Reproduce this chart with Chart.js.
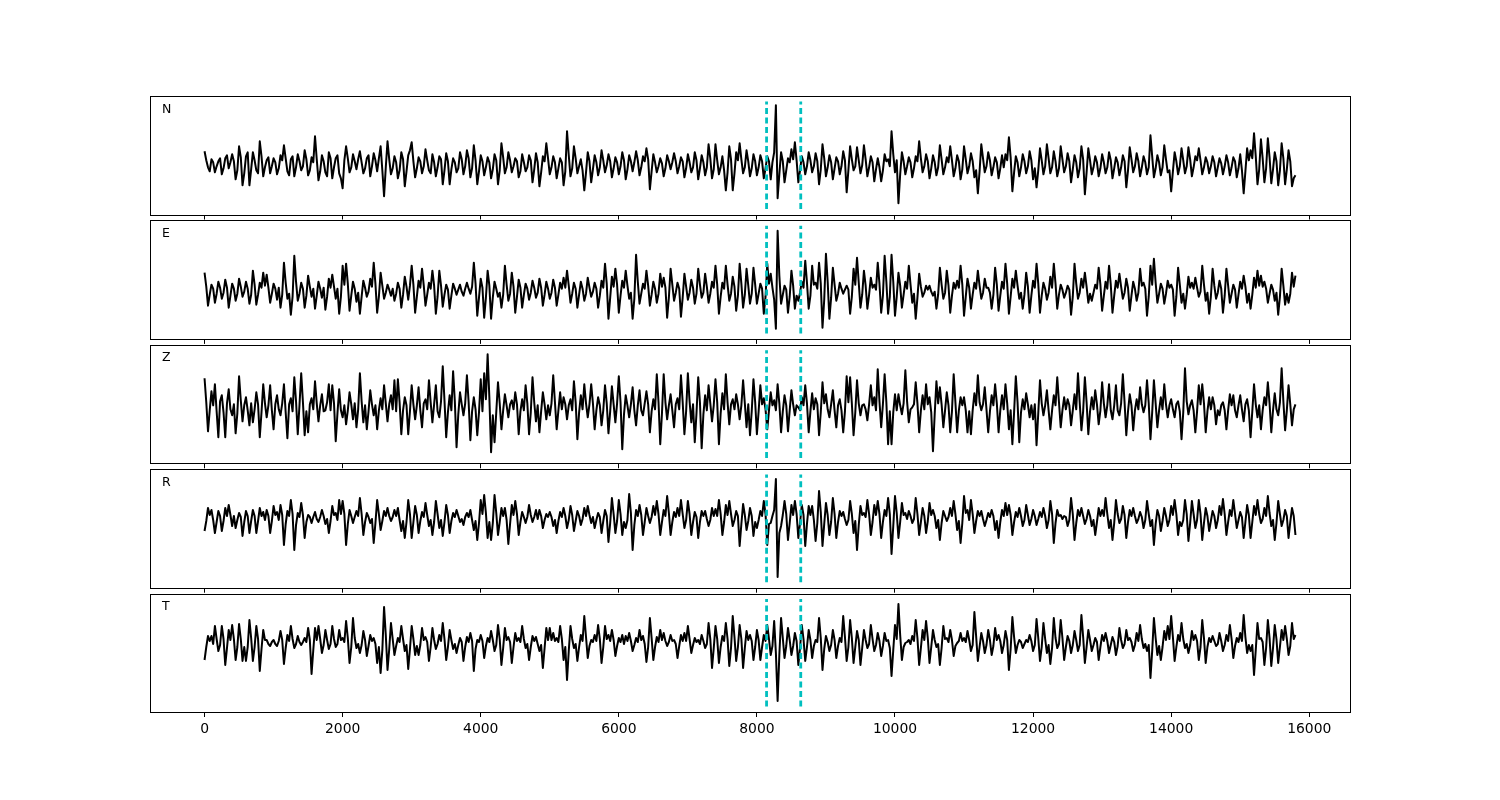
<!DOCTYPE html>
<html>
<head>
<meta charset="utf-8">
<title>N E Z R T traces</title>
<script src="https://cdn.jsdelivr.net/npm/chart.js@4.4.0/dist/chart.umd.min.js"></script>
<style>
  html, body { margin: 0; padding: 0; background: #fff; }
  #wrap { position: relative; width: 1500px; height: 800px; }
  #wrap canvas { position: absolute; left: 0; top: 0; }
</style>
</head>
<body>
<div id="wrap">
  <canvas id="c0" width="1500" height="800"></canvas>
  <canvas id="c1" width="1500" height="800"></canvas>
  <canvas id="c2" width="1500" height="800"></canvas>
  <canvas id="c3" width="1500" height="800"></canvas>
  <canvas id="c4" width="1500" height="800"></canvas>
</div>
<script>
// samples every 25 points (0 .. 15800)
const sampleStep = 25;
const channelNames = ["N", "E", "Z", "R", "T"];

const traceN = [
  13, 4, -3, -7, 5, 2, -8, -2, 3, 6, -10, -4, 6, 9, -4, 2, 10, 3, -15, -6, 18, 7, -21, -9, 8, 12, -21, -5, 12, 4, -6, -9, 23, 8, -12, -3, 4, 7, -9, -2,
  6, 2, -10, -4, 9, 4, 19, 6, -7, -11, 5, 8, -12, -3, 10, 3, -6, -2, 14, 5, -11, -6, 7, 2, 28, 5, -16, -7, 9, 3, -8, -12, 12, 6, -14, -3, 6, 9, -9, -14,
  -24, 4, 18, 6, -8, -3, 10, 3, -5, 5, 13, 2, -9, -4, 6, 9, -12, -2, 11, 4, -7, 6, 18, -6, -32, -3, 23, 5, -10, -4, 8, 2, -14, -6, 12, 5, -22, -7, 9, 14,
  22, 3, -13, -4, 7, 3, -9, -2, 15, 4, -6, -9, 10, 2, -12, -3, 8, 5, -20, -6, 11, 3, -20, -5, 6, 2, -8, -4, 12, 5, -10, -2, 14, 6, -13, -4, 19, 4, -20, -7,
  9, 3, -11, -3, 7, 2, -14, -5, 10, 4, -20, -6, 21, 7, -9, -3, 12, 4, -8, -2, 6, 3, -13, -7, 10, 2, -7, -3, 9, 4, -18, -5, 11, 2, -22, -8, 8, 3, 21, 6,
  -10, -3, 8, 2, -14, -4, 6, 2, -21, -7, 33, 9, -12, -4, 18, 6, -9, -2, 5, -6, -26, -8, 12, 3, -18, -5, 9, 2, -11, -3, 14, 4, -8, -1, 10, 3, -13, -4, 7, 2,
  -10, -2, 12, 4, -15, -5, 9, 3, -7, 2, 13, 4, -11, -3, 8, 3, 16, 5, -25, -7, 10, 2, -8, -2, 6, 1, -12, -4, 9, 3, -5, 2, 11, 3, -9, -2, 7, 3, -13, -4,
  10, 2, -8, -3, 12, 4, -15, -4, 9, 2, -11, -3, 20, 6, -14, -5, 20, 4, -10, -3, 8, -6, -26, -8, 18, 5, -26, -9, 12, 4, 21, 5, -9, -3, 14, 3, -12, -4, 10, 3,
  -11, -3, 9, 3, -14, -4, 8, 3, -15, 2, 12, 59, -34, -10, 12, 3, -18, -6, 6, 2, 15, 5, 22, 4, -18, -6, 8, 2, -10, -2, 12, 4, -8, -2, 11, 3, -20, -5, 20, 6,
  -12, -3, 9, 2, -15, -4, 7, 3, -10, -2, 13, 4, -28, -6, 18, 5, -6, -2, 17, 4, -9, -1, 19, 5, -12, -3, 8, 2, -17, -5, 6, -3, -17, -6, 10, 3, 5, -2, 33, 10,
  -8, 4, -39, -10, 12, 3, -10, -2, 7, 2, -13, -4, 8, 3, 23, 6, -8, -2, 10, 3, -14, -4, 9, 2, -11, -3, 19, 5, -10, -3, 7, 2, 18, 4, -12, -4, 9, 3, -15, -5,
  18, 5, -9, -2, 11, 3, -13, -6, -29, -7, 20, 6, -8, -2, 12, 4, -11, -3, 7, 2, -14, -4, 9, -3, 10, 4, 27, 7, -27, -8, 8, 2, -12, -3, 10, 3, -9, -2, 13, 4,
  -15, -4, -23, -6, 16, 4, -10, -2, 20, 6, -9, -3, 13, 3, -12, -4, 18, 5, -8, -2, 11, 3, -18, -5, 9, 2, -13, -4, 18, 5, -30, -8, 16, 4, -10, -3, 8, 2, -12, -4,
  10, 2, -9, -3, 12, 4, -14, -4, 7, 2, -11, -3, 9, 3, -23, -6, 17, 5, -8, -2, 11, 3, -12, -3, 8, 2, -10, -3, 29, 8, -13, -4, 9, 2, -11, -3, 19, 5, -8, -6,
  -27, -7, 12, 3, -10, -2, 16, 4, -9, -2, 17, 5, -12, -3, 8, 4, 16, 4, -10, -3, 7, 2, -9, -2, 8, 2, -12, -3, 6, 1, -10, -2, 9, 2, -11, -3, 7, 3, -13, -4,
  10, -6, -29, -7, 16, 4, 14, 6, 31, 8, -20, -5, 25, 6, -18, -4, 26, 7, -19, -5, 12, 3, -21, -6, 21, 6, -20, -5, 14, 3, -22, -14, -11
];

const traceE = [
  18, 4, -15, -4, 6, 2, -12, -3, 9, 3, -8, -2, 11, 3, -17, -5, 7, 2, -10, -3, 12, 4, -6, -1, 9, 2, -13, -4, 20, 6, -14, -4, 8, 3, 18, 5, 16, 3, -12, -3,
  7, 2, -9, 3, -17, -4, 28, 8, -8, -3, -24, -6, 35, 9, -10, -3, 8, 2, -17, -5, 15, 4, -6, 2, -18, -5, 9, 2, -7, 3, -19, -6, 12, 3, 16, 4, -8, 2, -23, -6,
  25, 6, 27, 7, -20, -5, 9, 2, -11, -2, -23, -6, 10, 3, -6, -1, 12, 4, 28, 7, -22, -6, 18, 5, -8, -2, 6, 1, -5, 2, -10, -3, 8, 2, -17, -4, 14, 4, -9, 5,
  25, 6, -22, -6, 10, 3, 22, 5, -15, -4, 8, 2, 20, 5, -23, -6, 20, 5, -16, -4, 6, 1, -18, -5, 7, 2, -4, 1, 6, -1, -5, 2, 8, 2, -3, 4, 28, 7, -25, -7,
  12, 3, -27, -7, 20, 5, -28, -7, 9, 2, -6, -2, -17, -4, 25, 6, -10, -3, 18, 4, -22, -6, 11, 3, -17, -4, 7, 2, -9, -2, 10, 3, -7, -2, 12, 3, -15, -4, 9, 2,
  -8, -2, 11, 3, -15, -4, 8, 2, 13, 3, 20, 5, -12, -3, 8, 2, -17, -4, 9, 2, -10, -3, 13, 3, -6, -1, 8, 2, -17, -5, 10, 3, 27, 7, -28, -7, 14, 4, 22, 6,
  -22, -5, 10, 3, 20, 5, -8, -2, -28, -8, 36, 9, -13, -3, 7, 2, 20, 5, -15, -4, 9, 2, -12, -3, 17, 4, 13, 3, -27, -7, 22, 6, -10, -2, 8, 2, -26, -7, 17, 4,
  -9, -2, 11, 3, -13, -3, 22, 6, -7, -2, 17, 4, -12, -3, 9, 3, 25, 6, -23, -6, 8, 2, 25, 6, -10, -3, 14, 4, -20, -5, 27, 7, -17, -4, 22, 5, -13, -3, 23, 6,
  -13, -3, 7, 2, -23, -6, 27, 7, 17, 3, -9, -38, 60, 15, -13, -4, 5, 1, -22, -6, 20, 5, -18, -5, -10, -2, 9, 3, 30, 8, -18, -5, 25, 6, 8, 2, 28, 7, -37, -9,
  37, 9, -28, -7, 23, 6, -10, -3, 8, 2, -3, 1, 5, 1, -23, -6, 22, 6, 33, 8, -17, -4, 20, 5, -18, -4, 13, 3, 6, 1, 28, 7, -22, -5, 35, 9, -23, -6, 36, 9,
  -25, -6, 18, 5, -17, -4, 9, 2, 25, 6, -12, -3, -28, -7, 17, 4, -6, -2, 5, 1, 5, -1, -5, -1, -18, -4, 23, 6, -8, -2, 20, 5, -22, -5, 8, 2, 10, 3, 25, 6,
  -25, -6, 12, 3, -18, -4, 8, 2, 20, 5, -8, -2, 12, 3, 3, -2, -18, -4, 23, 6, -20, -5, 9, 2, 27, 7, -23, -6, 12, 3, 20, 5, -8, -2, -18, -4, 18, 4, -22, -5,
  10, 3, 27, 7, -22, -5, 8, 2, -9, -2, 14, 3, 27, 7, -18, -4, 6, 1, -7, -2, 5, 1, -24, -6, 27, 7, -8, -2, 12, 3, 18, 4, -12, -3, -10, -2, 6, 2, 23, 6,
  -20, -5, 9, 2, 25, 6, -22, -5, 10, 3, 17, 4, -8, -2, 12, 3, -20, -5, 9, 2, -10, -2, 22, 5, 8, 2, -25, -6, 25, 6, 32, 8, -12, -3, 7, 2, -13, -3, 10, 3,
  6, 1, -25, -6, 23, 6, -12, -3, -18, -4, 14, 3, 8, 2, 13, 3, -6, -1, 25, 6, -10, -2, -23, -6, 22, 5, -8, -2, 10, 2, -22, -5, 22, 5, -12, -3, 6, 1, -17, -4,
  9, 2, 15, 4, -12, -3, -18, -4, 13, 3, 20, 5, 15, 4, 9, 2, -12, -3, 6, 1, -10, -2, -24, -6, 22, 5, -14, -3, -12, -3, 18, 4, 15
];

const traceZ = [
  29, 5, -24, -3, 16, 2, 23, -4, -30, 6, 12, -5, -30, 4, 18, -2, -8, 3, -26, -6, 31, 7, -14, 2, 10, -3, -18, 4, -15, -2, 15, 3, -30, -5, 23, 4, -10, 2, 22, -3,
  -22, 3, 12, -2, -8, 4, 23, -5, -31, 3, 9, -4, 30, 6, -27, 2, 34, 5, -28, -4, -25, 3, 9, -2, 26, 4, -14, 2, 13, -4, -3, 5, 23, -3, 22, 4, -34, -6, 18, -3,
  -10, 2, -17, -3, 15, 3, -12, 4, -20, -2, 34, 6, -15, 2, -22, -4, 17, 3, -8, 2, -22, -3, 9, -2, 22, 4, -14, 3, 12, -2, 27, -4, 28, 5, -27, -3, 10, 2, -27, -4,
  22, 3, -12, 2, 20, -3, -20, 4, 8, -2, 27, 5, -15, 3, 22, -4, -10, 6, 41, 7, -30, -5, 12, -3, 36, 6, -40, -7, 15, 3, -8, 4, 32, 5, -33, -4, 10, -2, -28, -5,
  28, -4, 34, 8, 53, 10, -45, -8, -35, -5, 25, 4, -22, -3, 13, 2, -10, 3, 7, -2, 15, 3, -27, -4, 8, -3, 22, 4, -27, -5, 30, 5, -14, 2, -25, -4, 15, 3, -12, 2,
  -8, 4, 32, 5, -22, -3, 15, -2, 10, 3, -12, 2, 8, -3, 26, 5, -32, -5, 12, -2, 23, 4, -10, 3, 23, 4, -22, -3, 10, 2, -18, -3, 22, 4, -26, -4, 21, 3, -15, 4,
  31, 5, -42, -7, 12, 2, -10, 3, 20, -3, -18, 2, 17, -3, -8, 4, 16, 3, -25, -4, 8, -2, 33, 5, -37, -6, 33, 5, -12, 2, 13, -3, -20, 3, 9, -2, 32, 5, -27, -4,
  34, 6, -15, 3, -35, -6, 30, 5, -41, -7, 12, -3, 22, 4, -14, 2, 28, 5, -37, -6, 14, -2, 33, 5, -17, 3, 8, -2, 13, 3, -12, 2, 27, 4, -20, 3, -28, -4, 28, 5,
  -27, -4, 22, 3, 9, -2, -22, -3, 15, 2, 7, -3, 23, 4, -25, -4, 12, 2, -24, -3, 17, 3, -8, 2, 0, -3, 10, 2, 22, 4, -25, -4, 14, -2, 9, 3, -28, -5, 25, 4,
  13, -2, -10, 3, 17, -3, -20, 2, 8, -3, -25, -4, 31, 5, 30, 4, -28, -5, 27, 4, -8, 2, 3, -2, -13, 3, 22, 2, 10, -3, 38, 6, -20, 3, 33, 5, -37, -4, -37, -5,
  13, -3, 13, 2, -7, 4, 37, 6, -15, -2, 0, 3, 25, 4, -25, -3, 12, -2, 23, 3, 10, -5, -44, -7, 26, 4, 20, 3, -20, -3, 15, 2, -25, -4, 33, 5, -25, -3, 10, 2,
  10, -3, -25, -4, -27, -3, 14, 2, 32, 5, -3, 3, 20, -2, -25, -4, 12, 2, 23, 4, -25, -3, 12, -2, 23, 4, -22, -3, -37, -5, 31, 5, -35, -5, 8, -2, 14, 3, -10, 2,
  -12, 3, -38, -6, 27, 4, -8, 2, 17, -3, -22, -3, 12, 2, 30, 5, -20, -3, 10, -2, 8, 2, -18, -3, 13, -2, 34, 5, -23, -4, 30, 5, -27, -4, 10, -2, 17, 3, -17, -3,
  25, 4, -10, 2, 23, -3, -12, 2, 22, -3, -8, 4, 33, 5, -28, -4, 13, 2, -23, -3, 8, -2, 20, 3, -5, 2, 27, 4, -32, -5, 27, 4, -20, -3, 10, -2, 23, 3, -10, 2,
  8, -2, -10, 3, 6, -4, -32, -5, 39, 6, -7, 2, 7, -3, -25, -4, 22, 3, 23, 4, -25, -4, 10, -2, 10, 2, -17, -3, -8, 2, 5, -3, -22, -3, 13, 2, 12, -3, -10, 2,
  12, -2, -14, 3, 8, -3, -30, -4, 23, 3, -10, 2, -22, -3, 10, 2, 25, 4, -25, -3, 14, -2, -8, 5, 39, 6, -23, -3, 22, 3, -18, -2, 3
];

const traceR = [
  -13, -3, 10, 3, 8, -2, -15, -4, 7, 2, -13, -3, 10, 2, 13, 3, -8, 2, -10, -2, 5, 1, -18, -4, 7, 2, -15, -3, 8, 2, -15, -3, 10, 2, 6, -2, 8, 2, -15, -3,
  12, 3, 6, -2, 13, 3, -27, -6, 7, 2, 18, 4, -32, -7, 5, 1, 15, 3, -20, -4, 3, 1, -5, 1, 6, -1, -4, 1, 8, 2, -6, -1, -15, -3, 12, 3, 5, -2, 18, 4,
  17, 4, -27, -6, 8, 2, -5, 1, 7, 2, 20, 4, -17, -4, 5, 1, -5, -1, -25, -5, 18, 4, -12, -3, 7, 2, 10, 2, -3, 1, 8, 2, 10, -2, -13, -3, -20, -4, 18, 4,
  -20, -4, 12, 3, -15, -3, 6, 1, 15, 3, -8, -2, -17, -4, 17, 4, -10, -2, -18, -4, 13, 3, -15, -3, 5, 1, 8, 2, -4, -1, -7, 1, 5, 1, 8, -2, -12, -3, -22, -5,
  18, 4, 23, 5, -20, -4, -22, -5, 23, 5, -17, -4, 10, 2, 10, -2, -26, -6, 13, 3, 17, 4, -17, -4, 6, 1, -5, 1, 13, 3, -4, 1, 8, -1, 8, 2, -10, -2, 4, 1,
  6, 1, -8, -2, -15, -3, 6, 1, 10, 2, -10, -2, 12, 3, -13, -3, 7, 2, -7, -1, 10, 2, 12, 3, -5, 1, -10, -2, 5, 1, -15, -3, 8, 2, -24, -5, 20, 4, -15, -3,
  18, 4, -17, -4, -10, -2, 24, 5, -32, -7, 8, 2, 13, 3, -17, -4, 10, 2, -5, 1, 12, 3, 17, 4, -17, -4, 8, 2, 22, 5, -17, -4, 6, 1, 10, 2, 18, 4, -10, -2,
  17, 4, -17, -4, 6, 1, -20, -4, 7, 2, 7, -1, -8, -2, 10, 2, 9, 2, 18, 4, -17, -4, 13, 3, 17, 4, -8, -2, 7, 2, -28, -6, 14, 3, -12, -3, 10, 2, -18, -4,
  -10, -2, 7, 2, 17, 4, -27, -6, -5, 2, 8, 39, -59, -15, -8, 3, 17, 4, -22, -5, 13, 3, 17, 4, -20, -5, 13, 3, -28, -6, 12, 3, 12, -2, -23, -5, 27, 6, -28, -6,
  15, 3, -17, -4, 20, 4, -20, -4, 7, 2, 6, -1, -7, -2, 17, 4, -15, -3, -32, -7, 12, 3, 5, 1, 18, 4, -17, -4, 13, 3, 17, 4, -20, -4, 8, 2, 20, 4, -36, -8,
  22, 5, -20, -4, 15, 3, 5, -1, 7, 2, -5, -1, 20, 4, -17, -4, 10, 2, -15, -3, 15, 3, 8, 2, -10, -2, -22, -5, 7, 2, -3, 1, 10, 2, 17, 4, -12, -3, -25, -5,
  22, 5, 8, -2, 18, 4, -15, -3, 7, 2, 7, -1, -8, -2, 5, 1, 8, 2, -12, -3, -20, -4, 8, 2, 15, 3, 13, 3, -17, -4, 6, 1, 10, 2, -8, -2, 13, 3, -7, -1,
  8, 2, -7, -1, 6, 1, 10, 2, -10, -2, 17, 4, -25, -5, 8, 2, 3, -1, 2, 1, -8, -2, 20, 4, -22, -5, 8, 2, 10, 2, -6, -1, 8, 2, -8, -2, -17, -4, 10, 2,
  8, 2, 20, 4, -10, -2, -22, -5, 18, 4, -5, -1, 12, 3, -20, -4, 8, 2, 10, 2, -5, -1, 6, 1, -10, -2, 17, 4, -8, -2, -27, -6, 8, 2, -13, -3, 10, 2, -8, -2,
  12, 3, 18, 4, -17, -4, -8, -2, 18, 4, -23, -5, 17, 4, -10, -2, 18, 4, -22, -5, 10, 2, -13, -3, 7, 2, -10, -2, 12, 3, 19, 4, -17, -4, 8, 2, 18, 4, -10, -2,
  6, 1, -20, -4, 13, 3, -20, -4, 12, 3, 18, 4, -5, -1, 10, 2, 22, 5, -8, -2, -22, -5, 17, 4, -8, -2, 8, 2, -20, -4, 10, 2, -17
];

const traceT = [
  -17, -4, 7, 2, 7, -1, 17, 4, -8, -2, 17, 4, -22, -5, 13, 3, 18, 4, -17, -4, 19, 4, -18, -4, -18, -4, 23, 5, -18, -4, 17, 4, -28, -6, 13, 3, 3, -1, -3, 1,
  3, -1, -3, 2, 12, 3, -21, -5, 8, 2, 17, 4, -5, -1, 7, 1, -2, 1, 5, 1, 15, 3, -31, -7, 15, 3, 17, 4, -10, -2, 13, 3, -6, -1, 17, 4, -4, -1, 13, 3,
  5, 1, 22, 5, -20, -4, 25, 5, -5, -1, -10, -2, 12, 3, -13, -3, 8, 2, 5, -1, -20, -4, -30, -7, 36, 8, -27, -6, 20, 4, -12, -3, 5, 1, 17, 4, -8, -2, -26, -6,
  17, 4, -12, -3, -12, -2, 15, 3, 6, 1, -18, -4, 15, 3, -6, -1, 8, 2, 20, 4, -17, -4, 13, 3, -6, -1, -10, -2, 5, 1, -18, -4, 6, 1, 10, 2, -28, -6, 3, 1,
  8, 2, -15, -3, 5, 1, 12, 3, -8, -2, 18, 4, -22, -5, 15, 3, 6, 1, -20, -4, 10, 2, 5, 1, 17, 4, -5, -1, -17, -4, 7, 2, 6, -1, -8, -2, -25, -5, 15, 3,
  15, 3, 10, 2, 5, 1, 17, 4, -17, -4, -37, -8, 17, 4, -5, -1, -18, -4, 8, 2, 27, 6, -15, -3, 3, 1, 8, 2, 18, 4, -20, -4, 17, 4, 8, 2, 13, 3, -13, -3,
  5, 1, 8, -1, 7, 2, 10, 2, -8, -2, 5, 1, 13, 3, 7, -1, -19, -4, 25, 5, -17, -4, 6, 1, 13, 3, 10, 2, -3, 1, 8, 2, 3, -1, -15, -3, 8, 2, 10, 2,
  17, 4, -10, -2, 5, 1, 3, -1, 8, 2, -5, -1, 20, 4, -25, -5, 17, 4, -20, -4, 7, 2, 20, 4, -23, -5, 27, 6, -18, -4, 18, 4, -25, -5, 12, 3, 8, 2, -17, -4,
  13, 3, -17, -4, 8, 2, 18, 4, -12, -3, 22, -10, -58, -12, 25, 5, -15, -3, 15, 3, -12, -3, 10, 2, -22, -5, 18, 4, -18, -4, 13, 3, -15, -3, 3, 1, 25, 5, -27, -6,
  7, 1, -8, -2, 13, 3, -15, -3, 5, 1, 27, 6, -18, -4, 23, 5, -20, -4, 12, 3, -22, -5, 13, 3, -5, -1, 18, 4, -8, -2, 10, 2, -13, -3, 10, 2, 3, -5, -33, -7,
  18, 4, 39, 8, -17, -4, 0, 1, 3, -1, 7, 2, 23, 5, -22, -5, 13, 3, 22, 5, -20, -4, 13, 3, -4, -1, -22, -5, 17, 4, 5, 1, 13, 3, -13, -3, 0, 2, 10, 2,
  5, 1, 12, 3, -8, -2, 31, 7, -18, -4, 10, 2, -10, -2, 13, 3, -12, -3, 15, 3, 8, 2, -10, -2, 12, 3, -27, -6, 26, 6, -10, -2, 3, 1, -5, -1, 3, 1, 8, 2,
  -8, -2, 24, 5, -18, -4, 20, 4, -10, -2, -21, -5, 25, 5, -5, -1, 23, 5, -17, -4, 7, 2, -10, -2, 12, 3, -8, -2, 28, 6, -20, -4, 13, 3, -8, -2, 5, 1, -17, -4,
  8, 2, 10, 2, -10, -2, 6, 1, -12, -3, 15, 3, -5, -1, 13, 3, 5, 1, -8, -2, 10, 2, 18, 4, -5, -1, -8, -2, -35, -8, 25, 5, -12, -3, -17, -4, 12, 3, 17, 4,
  27, 6, -18, -4, 8, 2, 20, 4, -5, -1, -10, -2, 12, 3, 8, 2, -17, -4, 23, 5, -20, -4, 5, 1, 7, 2, -3, -1, 10, 2, -8, -2, 8, 2, 18, 4, -15, -3, 5, 1,
  10, 2, 28, 6, -10, -2, -8, -2, -32, -7, 20, 4, 5, 1, -22, -5, 23, 5, -23, -5, 18, 4, -20, -4, 13, 3, 17, 4, -12, -3, 20, 4, 8
];

const traces = [traceN, traceE, traceZ, traceR, traceT];
const yLow = [-50.2, -48.2, -56, -69.7, -69];
const yHigh = [68.3, 70.3, 62.5, 48.8, 49.4];
const pickTimes = [8140, 8635];
const xTickValues = [0, 2000, 4000, 6000, 8000, 10000, 12000, 14000, 16000];

// panel frames in page pixels
const panelTop = [96, 220.4, 344.8, 469.2, 593.6];
const panelBottom = [214.5, 338.9, 463.3, 587.7, 712];
const AXIS_H = 40;
const FONT = "'DejaVu Sans', sans-serif";

const framePlugin = {
  id: "frame",
  afterDraw(chart, args, opts) {
    const a = chart.chartArea;
    const ctx = chart.ctx;
    ctx.save();
    ctx.strokeStyle = "#000";
    ctx.lineWidth = 1;
    ctx.strokeRect(Math.round(a.left) + 0.5, Math.round(a.top) + 0.5,
      Math.round(a.right) - Math.round(a.left), Math.round(a.bottom) - Math.round(a.top));
    ctx.fillStyle = "#000";
    ctx.font = "12.5px " + FONT;
    ctx.textAlign = "left";
    ctx.textBaseline = "alphabetic";
    ctx.fillText(opts.label, a.left + 12, a.top + 0.14 * (a.bottom - a.top));
    ctx.restore();
  }
};

traces.forEach(function (trace, i) {
  const span = yHigh[i] - yLow[i];
  const lo = yLow[i] + span * 0.0455;
  const hi = yHigh[i] - span * 0.0455;
  const datasets = [{
    data: trace.map((v, k) => ({ x: k * sampleStep, y: v })),
    borderColor: "#000",
    borderWidth: 2,
    borderJoinStyle: "round",
    pointRadius: 0,
    tension: 0,
    order: 2
  }];
  pickTimes.forEach(function (t) {
    datasets.push({
      data: [{ x: t, y: lo }, { x: t, y: hi }],
      borderColor: "#00bfbf",
      borderWidth: 2.8,
      borderDash: [6, 3.5],
      pointRadius: 0,
      order: 1
    });
  });

  const isLast = i === traces.length - 1;
  new Chart(document.getElementById("c" + i), {
    type: "line",
    data: { datasets: datasets },
    options: {
      responsive: false,
      animation: false,
      events: [],
      layout: {
        padding: { left: 150, right: 150, top: panelTop[i], bottom: 800 - panelBottom[i] - AXIS_H }
      },
      plugins: {
        legend: { display: false },
        tooltip: { enabled: false },
        frame: { label: channelNames[i] }
      },
      scales: {
        x: {
          type: "linear",
          min: -790,
          max: 16590,
          afterBuildTicks: s => { s.ticks = xTickValues.map(v => ({ value: v })); },
          afterFit: s => { s.height = AXIS_H; },
          grid: { drawOnChartArea: false, drawTicks: true, tickLength: 5, color: "#000", lineWidth: 1 },
          border: { display: false },
          ticks: {
            display: isLast,
            color: "#000",
            padding: 4,
            maxRotation: 0,
            autoSkip: false,
            font: { family: FONT, size: 13.9 },
            callback: v => String(v)
          }
        },
        y: { display: false, min: yLow[i], max: yHigh[i] }
      }
    },
    plugins: [framePlugin]
  });
});
</script>
</body>
</html>
